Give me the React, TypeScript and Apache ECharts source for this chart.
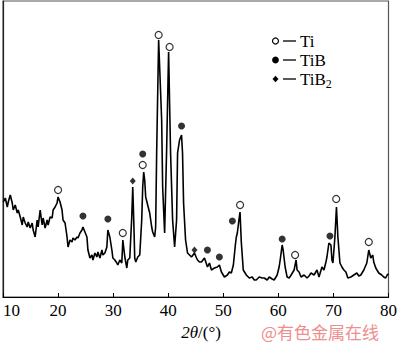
import React, { useEffect, useRef } from "react";
import * as echarts from "echarts";

// 2θ (degrees) and intensity (a.u.) of the measured XRD pattern
const twoTheta = [
  10.05, 10.42, 10.78, 10.96, 11.32, 11.68, 11.86, 12.22, 12.59, 12.77, 13.13, 13.49, 13.67, 14.03, 14.39, 14.58,
  14.94, 15.3, 15.48, 15.84, 16.2, 16.38, 16.75, 17.11, 17.29, 17.65, 18.01, 18.19, 18.55, 18.92, 19.1, 19.46,
  19.82, 20.0, 20.36, 20.72, 20.9, 21.27, 21.63, 21.81,
  22.17, 22.53, 22.71, 23.07, 23.44, 23.62, 23.98, 24.34, 24.52, 24.88, 25.24, 25.42, 25.79, 26.15, 26.33, 26.69,
  27.05, 27.23, 27.6, 27.96, 28.14, 28.5, 28.86, 29.04, 29.4, 29.77, 29.95, 30.31, 30.67, 30.85, 31.21, 31.57,
  31.76, 32.12, 32.48, 32.66, 33.02, 33.38, 33.56, 33.74,
  33.92, 34.11, 34.47, 34.83, 35.19, 35.37, 35.55, 35.73, 35.91, 36.27, 36.64, 37.0, 37.18, 37.54, 37.72, 37.9,
  38.26, 38.81, 38.99, 39.35, 39.71, 40.07, 40.43, 40.8, 41.16, 41.52, 41.7, 42.06, 42.42, 42.6, 42.79, 43.15,
  43.51, 43.87, 44.23, 44.77, 45.14, 45.32,
  45.68, 46.04, 46.58, 47.13, 47.49, 47.85, 48.39, 48.93, 49.3, 49.66, 50.2, 50.74, 51.1, 51.46, 51.83, 52.19,
  52.37, 52.55, 52.73, 52.91, 53.04, 53.27, 53.63, 54.18, 54.72, 55.26, 55.62, 55.98, 56.53, 57.07,
  57.43, 57.97, 58.34, 58.88, 59.24, 59.78, 60.14, 60.33, 60.69, 60.87, 61.23, 61.59, 61.96, 62.32, 62.86, 63.22,
  63.4, 63.76, 64.12, 64.67, 65.21, 65.57, 65.93, 66.48, 67.02, 67.38, 67.92, 68.28, 68.64, 68.82, 69.18, 69.55,
  69.73, 69.91, 70.27, 70.55, 70.81, 71.18, 71.54, 71.9, 72.26, 72.62, 73.17, 73.71, 74.25, 74.61, 74.97, 75.52,
  76.06, 76.42, 76.78, 77.14, 77.32, 77.69, 78.23, 78.77, 79.13, 79.49, 79.85, 80.0,
];
const intensity = [
  95, 99, 90, 95, 102, 94, 87, 92, 84, 87, 80, 72, 80, 74, 70, 75,
  69, 74, 67, 60, 77, 70, 87, 72, 79, 69, 77, 72, 80, 79, 87, 90,
  94, 100, 95, 87, 77, 74, 60, 50,
  57, 55, 59, 57, 60, 59, 64, 67, 70, 65, 60, 47, 39, 42, 37, 44,
  40, 45, 39, 47, 42, 44, 50, 67, 60, 47, 39, 37, 34, 32, 37, 34,
  57, 40, 29, 37, 39, 80, 110, 77,
  39, 35, 40, 42, 77, 110, 125, 117, 100, 92, 84, 70, 65, 60, 70, 144,
  257, 177, 110, 64, 147, 245, 144, 77, 50, 77, 144, 157, 162, 144, 94, 57,
  44, 42, 40, 44, 39, 37,
  35, 35, 39, 30, 34, 27, 29, 30, 32, 25, 20, 22, 25, 24, 32, 52,
  60, 64, 72, 80, 85, 55, 27, 22, 19, 20, 17, 17, 20, 19,
  19, 17, 20, 18, 17, 22, 30, 37, 52, 47, 30, 20, 19, 22, 27, 37,
  27, 25, 20, 22, 19, 21, 24, 22, 27, 20, 30, 27, 35, 40, 54, 52,
  37, 34, 60, 90, 60, 34, 30, 27, 25, 19, 20, 22, 24, 21, 22, 27,
  34, 47, 39, 42, 35, 29, 24, 22, 20, 19, 23, 22,
];

// Phase markers: [2θ, height]
const tiPeaks = [
  [20.0, 107], [31.75, 64], [35.37, 132], [38.26, 262], [40.25, 250], [53.05, 92], [63.04, 42], [70.5, 98], [76.42, 55],
];
const tibPeaks = [
  [24.52, 81], [29.04, 78], [35.37, 143], [42.42, 171], [47.12, 47], [49.29, 40], [51.65, 76], [60.69, 58], [69.37, 61],
];
const tib2Peaks = [
  [33.56, 116], [44.77, 47],
];

const xTicks = [10, 20, 30, 40, 50, 60, 70, 80];
const legendLabels = ["Ti", "TiB", "TiB"];

export default function App() {
  const ref = useRef<HTMLDivElement>(null);

  useEffect(() => {
    if (!ref.current) return;
    const chart = echarts.init(ref.current, undefined, { renderer: "svg" });
    const font = "'Liberation Serif', 'Times New Roman', serif";
    const lineData = twoTheta.map((t, i) => [t, intensity[i]]);

    const legendItems: any[] = [];
    const legendY = [41, 60, 79];
    legendY.forEach((y, i) => {
      if (i === 0) {
        legendItems.push({ type: "circle", shape: { cx: 275.5, cy: y, r: 3 }, style: { fill: "#fff", stroke: "#000", lineWidth: 1.2 } });
      } else if (i === 1) {
        legendItems.push({ type: "circle", shape: { cx: 275.5, cy: y, r: 3.4 }, style: { fill: "#000" } });
      } else {
        legendItems.push({
          type: "polygon",
          shape: { points: [[275.5, y - 3.3], [278.5, y], [275.5, y + 3.3], [272.5, y]] },
          style: { fill: "#000" },
        });
      }
      legendItems.push({ type: "line", shape: { x1: 283, y1: y, x2: 296, y2: y }, style: { stroke: "#000", lineWidth: 1.3 } });
      legendItems.push({
        type: "text",
        x: 300,
        y: y,
        style: {
          text: i === 2 ? `${legendLabels[i]}{s|2}` : legendLabels[i],
          font: `17px ${font}`,
          fill: "#000",
          verticalAlign: "middle",
          rich: { s: { fontSize: 12, fontFamily: font, padding: [10, 0, 0, 0] } },
        },
      });
    });

    chart.setOption({
      animation: false,
      backgroundColor: "#fff",
      grid: { left: 3, right: 9, top: 1, bottom: 46, show: true, borderColor: "#555", borderWidth: 1.2 },
      xAxis: {
        type: "value",
        min: 10,
        max: 80,
        interval: 10,
        axisLine: { show: true, lineStyle: { color: "#000", width: 1.2 } },
        axisTick: { show: true, inside: true, length: 4, lineStyle: { color: "#000" } },
        axisLabel: {
          color: "#000",
          fontFamily: font,
          fontSize: 17,
          margin: 5,
          alignMinLabel: "left",
          formatter: (v: number) => (xTicks.includes(v) ? String(v) : ""),
        },
        splitLine: { show: false },
      },
      yAxis: {
        type: "value",
        min: 0,
        max: 296,
        axisLine: { show: true, lineStyle: { color: "#222", width: 1.2 } },
        axisTick: { show: false },
        axisLabel: { show: false },
        splitLine: { show: false },
      },
      series: [
        {
          type: "line",
          data: lineData,
          showSymbol: false,
          lineStyle: { color: "#000", width: 1.6 },
          silent: true,
        },
        {
          type: "scatter",
          data: tiPeaks,
          symbol: "circle",
          symbolSize: 7,
          itemStyle: { color: "#fff", borderColor: "#000", borderWidth: 1.2 },
        },
        {
          type: "scatter",
          data: tibPeaks,
          symbol: "circle",
          symbolSize: 7,
          itemStyle: { color: "#000" },
        },
        {
          type: "scatter",
          data: tib2Peaks,
          symbol: "diamond",
          symbolSize: [6, 7],
          itemStyle: { color: "#000" },
        },
      ],
      graphic: [
        ...legendItems,
        {
          type: "text",
          x: 201,
          y: 332,
          style: {
            text: "{i|2θ}/(°)",
            font: `17px ${font}`,
            fill: "#000",
            align: "center",
            verticalAlign: "middle",
            rich: { i: { fontStyle: "italic", fontSize: 17, fontFamily: font } },
          },
        },
        {
          type: "text",
          x: 261,
          y: 331,
          style: {
            text: "@有色金属在线",
            font: "17px 'Noto Sans CJK SC', sans-serif",
            fill: "#ee8e8e",
            verticalAlign: "middle",
          },
        },
      ],
    });
    return () => chart.dispose();
  }, []);

  return <div ref={ref} style={{ position: "fixed", left: 0, top: 0, width: 400, height: 343 }} />;
}
